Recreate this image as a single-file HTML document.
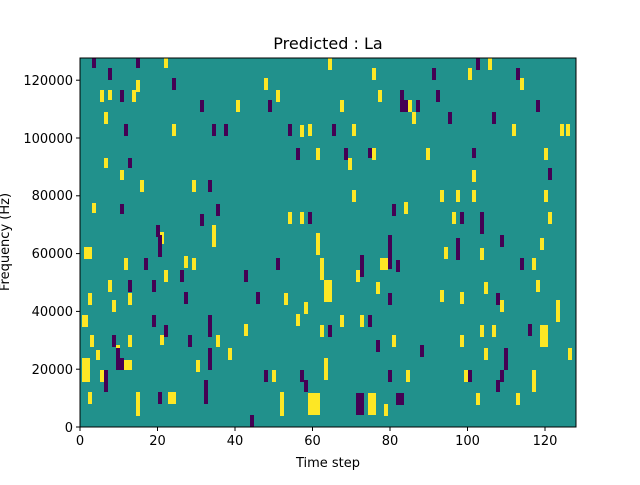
<!DOCTYPE html>
<html><head><meta charset="utf-8"><style>
body{margin:0;background:#fff}
text{font-family:"DejaVu Sans","Liberation Sans",sans-serif;fill:#000}
</style></head><body>
<svg width="640" height="480" xmlns="http://www.w3.org/2000/svg">
<rect x="0" y="0" width="640" height="480" fill="#fff"/>
<rect x="80" y="58" width="496" height="369" fill="#21918c"/>
<g fill="#fde725">
<rect x="82" y="358" width="8" height="24"/><rect x="82" y="315" width="6" height="12"/><rect x="84" y="247" width="8" height="12"/><rect x="88" y="293" width="4" height="12"/><rect x="92" y="203" width="4" height="10"/><rect x="90" y="335" width="4" height="12"/><rect x="88" y="392" width="4" height="12"/><rect x="96" y="350" width="4" height="10"/><rect x="100" y="370" width="4" height="12"/><rect x="104" y="112" width="4" height="12"/><rect x="100" y="90" width="4" height="12"/><rect x="108" y="90" width="4" height="10"/><rect x="104" y="158" width="4" height="10"/><rect x="108" y="280" width="4" height="12"/><rect x="112" y="300" width="4" height="12"/><rect x="116" y="345" width="4" height="12"/><rect x="120" y="170" width="4" height="10"/><rect x="124" y="360" width="8" height="10"/><rect x="128" y="293" width="4" height="12"/><rect x="124" y="258" width="4" height="12"/><rect x="128" y="335" width="4" height="12"/><rect x="132" y="90" width="4" height="12"/><rect x="136" y="80" width="4" height="12"/><rect x="136" y="392" width="4" height="24"/><rect x="140" y="180" width="4" height="12"/><rect x="160" y="232" width="4" height="12"/><rect x="160" y="335" width="4" height="10"/><rect x="164" y="58" width="4" height="10"/><rect x="164" y="270" width="4" height="12"/><rect x="168" y="392" width="8" height="12"/><rect x="172" y="124" width="4" height="12"/><rect x="184" y="256" width="4" height="12"/><rect x="192" y="180" width="4" height="12"/><rect x="192" y="258" width="4" height="12"/><rect x="196" y="360" width="4" height="12"/><rect x="212" y="225" width="4" height="22"/><rect x="216" y="335" width="4" height="12"/><rect x="228" y="348" width="4" height="12"/><rect x="236" y="100" width="4" height="12"/><rect x="244" y="324" width="4" height="12"/><rect x="264" y="78" width="4" height="12"/><rect x="272" y="370" width="4" height="12"/><rect x="276" y="90" width="4" height="12"/><rect x="280" y="392" width="4" height="24"/><rect x="284" y="293" width="4" height="12"/><rect x="288" y="212" width="4" height="12"/><rect x="296" y="314" width="4" height="12"/><rect x="300" y="125" width="4" height="12"/><rect x="300" y="212" width="4" height="12"/><rect x="304" y="302" width="4" height="12"/><rect x="308" y="124" width="4" height="12"/><rect x="308" y="393" width="12" height="22"/><rect x="316" y="148" width="4" height="12"/><rect x="316" y="233" width="4" height="22"/><rect x="320" y="258" width="4" height="22"/><rect x="320" y="325" width="4" height="12"/><rect x="324" y="280" width="8" height="22"/><rect x="324" y="358" width="4" height="22"/><rect x="328" y="58" width="4" height="12"/><rect x="340" y="100" width="4" height="12"/><rect x="340" y="315" width="4" height="12"/><rect x="348" y="158" width="4" height="12"/><rect x="352" y="190" width="4" height="12"/><rect x="352" y="124" width="4" height="12"/><rect x="356" y="270" width="4" height="12"/><rect x="360" y="315" width="4" height="12"/><rect x="368" y="393" width="8" height="22"/><rect x="372" y="68" width="4" height="12"/><rect x="372" y="148" width="4" height="12"/><rect x="376" y="282" width="4" height="12"/><rect x="378" y="90" width="4" height="12"/><rect x="380" y="258" width="8" height="12"/><rect x="384" y="404" width="4" height="12"/><rect x="392" y="335" width="4" height="12"/><rect x="404" y="202" width="4" height="12"/><rect x="408" y="100" width="4" height="12"/><rect x="412" y="112" width="4" height="12"/><rect x="406" y="370" width="4" height="12"/><rect x="426" y="148" width="4" height="12"/><rect x="440" y="290" width="4" height="12"/><rect x="440" y="190" width="4" height="12"/><rect x="444" y="247" width="4" height="12"/><rect x="452" y="212" width="4" height="12"/><rect x="456" y="190" width="4" height="12"/><rect x="460" y="292" width="4" height="12"/><rect x="460" y="335" width="4" height="12"/><rect x="464" y="370" width="4" height="12"/><rect x="468" y="68" width="4" height="12"/><rect x="472" y="170" width="4" height="12"/><rect x="472" y="190" width="4" height="12"/><rect x="476" y="393" width="4" height="12"/><rect x="480" y="325" width="4" height="12"/><rect x="484" y="348" width="4" height="12"/><rect x="480" y="248" width="4" height="12"/><rect x="484" y="282" width="4" height="12"/><rect x="488" y="58" width="4" height="12"/><rect x="492" y="325" width="4" height="12"/><rect x="500" y="300" width="4" height="12"/><rect x="512" y="124" width="4" height="12"/><rect x="516" y="393" width="4" height="12"/><rect x="520" y="78" width="4" height="12"/><rect x="532" y="258" width="4" height="12"/><rect x="532" y="370" width="4" height="22"/><rect x="536" y="280" width="4" height="12"/><rect x="540" y="238" width="4" height="12"/><rect x="540" y="325" width="8" height="22"/><rect x="544" y="148" width="4" height="12"/><rect x="548" y="212" width="4" height="12"/><rect x="544" y="190" width="4" height="12"/><rect x="556" y="300" width="4" height="22"/><rect x="560" y="124" width="4" height="12"/><rect x="566" y="124" width="4" height="12"/><rect x="568" y="348" width="4" height="12"/>
</g>
<g fill="#440154">
<rect x="92" y="58" width="4" height="10"/><rect x="104" y="370" width="4" height="22"/><rect x="108" y="68" width="4" height="12"/><rect x="112" y="335" width="4" height="12"/><rect x="116" y="348" width="4" height="12"/><rect x="116" y="358" width="8" height="12"/><rect x="120" y="90" width="4" height="12"/><rect x="124" y="124" width="4" height="12"/><rect x="120" y="204" width="4" height="10"/><rect x="128" y="158" width="4" height="10"/><rect x="128" y="280" width="4" height="12"/><rect x="136" y="58" width="4" height="10"/><rect x="144" y="258" width="4" height="12"/><rect x="152" y="280" width="4" height="12"/><rect x="152" y="315" width="4" height="12"/><rect x="156" y="225" width="4" height="12"/><rect x="158" y="235" width="4" height="22"/><rect x="158" y="392" width="4" height="12"/><rect x="164" y="325" width="4" height="12"/><rect x="172" y="78" width="4" height="12"/><rect x="180" y="270" width="4" height="12"/><rect x="184" y="292" width="4" height="12"/><rect x="188" y="335" width="4" height="12"/><rect x="200" y="100" width="4" height="12"/><rect x="200" y="214" width="4" height="12"/><rect x="204" y="380" width="4" height="24"/><rect x="208" y="180" width="4" height="12"/><rect x="208" y="315" width="4" height="22"/><rect x="208" y="348" width="4" height="22"/><rect x="212" y="124" width="4" height="12"/><rect x="216" y="204" width="4" height="12"/><rect x="224" y="124" width="4" height="12"/><rect x="244" y="270" width="4" height="12"/><rect x="250" y="415" width="4" height="12"/><rect x="256" y="292" width="4" height="12"/><rect x="264" y="370" width="4" height="12"/><rect x="268" y="100" width="4" height="12"/><rect x="276" y="258" width="4" height="12"/><rect x="288" y="124" width="4" height="12"/><rect x="296" y="148" width="4" height="12"/><rect x="300" y="370" width="4" height="12"/><rect x="304" y="380" width="4" height="12"/><rect x="308" y="212" width="4" height="12"/><rect x="328" y="325" width="4" height="12"/><rect x="332" y="124" width="4" height="12"/><rect x="344" y="148" width="4" height="12"/><rect x="356" y="393" width="8" height="22"/><rect x="360" y="255" width="4" height="22"/><rect x="368" y="315" width="4" height="12"/><rect x="368" y="148" width="4" height="10"/><rect x="376" y="340" width="4" height="12"/><rect x="388" y="235" width="4" height="34"/><rect x="388" y="293" width="4" height="12"/><rect x="388" y="370" width="4" height="12"/><rect x="392" y="204" width="4" height="12"/><rect x="396" y="393" width="8" height="12"/><rect x="396" y="260" width="4" height="12"/><rect x="400" y="90" width="4" height="22"/><rect x="404" y="100" width="4" height="12"/><rect x="416" y="100" width="4" height="12"/><rect x="420" y="345" width="4" height="12"/><rect x="432" y="68" width="4" height="12"/><rect x="436" y="90" width="4" height="12"/><rect x="448" y="112" width="4" height="12"/><rect x="456" y="238" width="4" height="22"/><rect x="460" y="212" width="4" height="12"/><rect x="468" y="370" width="4" height="12"/><rect x="472" y="148" width="4" height="10"/><rect x="476" y="58" width="4" height="12"/><rect x="480" y="212" width="4" height="22"/><rect x="492" y="112" width="4" height="12"/><rect x="496" y="293" width="4" height="12"/><rect x="500" y="235" width="4" height="12"/><rect x="500" y="370" width="4" height="12"/><rect x="504" y="348" width="4" height="22"/><rect x="496" y="380" width="4" height="12"/><rect x="516" y="68" width="4" height="12"/><rect x="520" y="258" width="4" height="12"/><rect x="528" y="324" width="4" height="12"/><rect x="536" y="100" width="4" height="12"/><rect x="548" y="168" width="4" height="12"/>
</g>
<rect x="80" y="58" width="496" height="369" fill="none" stroke="#000" stroke-width="1"/>
<g stroke="#000" stroke-width="1">
<line x1="80" y1="427" x2="80" y2="431"/><line x1="157.5" y1="427" x2="157.5" y2="431"/><line x1="235" y1="427" x2="235" y2="431"/><line x1="312.5" y1="427" x2="312.5" y2="431"/><line x1="390" y1="427" x2="390" y2="431"/><line x1="467.5" y1="427" x2="467.5" y2="431"/><line x1="545" y1="427" x2="545" y2="431"/>
<line x1="76" y1="427" x2="80" y2="427"/><line x1="76" y1="369.2" x2="80" y2="369.2"/><line x1="76" y1="311.4" x2="80" y2="311.4"/><line x1="76" y1="253.6" x2="80" y2="253.6"/><line x1="76" y1="195.8" x2="80" y2="195.8"/><line x1="76" y1="138" x2="80" y2="138"/><line x1="76" y1="80.2" x2="80" y2="80.2"/>
</g>
<g font-size="13" text-anchor="middle">
<text x="80" y="445">0</text><text x="157.5" y="445">20</text><text x="235" y="445">40</text><text x="312.5" y="445">60</text><text x="390" y="445">80</text><text x="467.5" y="445">100</text><text x="545" y="445">120</text>
</g>
<g font-size="13" text-anchor="end">
<text x="73" y="432">0</text><text x="73" y="374">20000</text><text x="73" y="316">40000</text><text x="73" y="258">60000</text><text x="73" y="200">80000</text><text x="73" y="143">100000</text><text x="73" y="85">120000</text>
</g>
<text x="328" y="467" font-size="13" text-anchor="middle">Time step</text>
<text x="9" y="242" font-size="13" text-anchor="middle" transform="rotate(-90 9 242)">Frequency (Hz)</text>
<text x="328" y="49" font-size="16" text-anchor="middle">Predicted : La</text>
</svg>
</body></html>
